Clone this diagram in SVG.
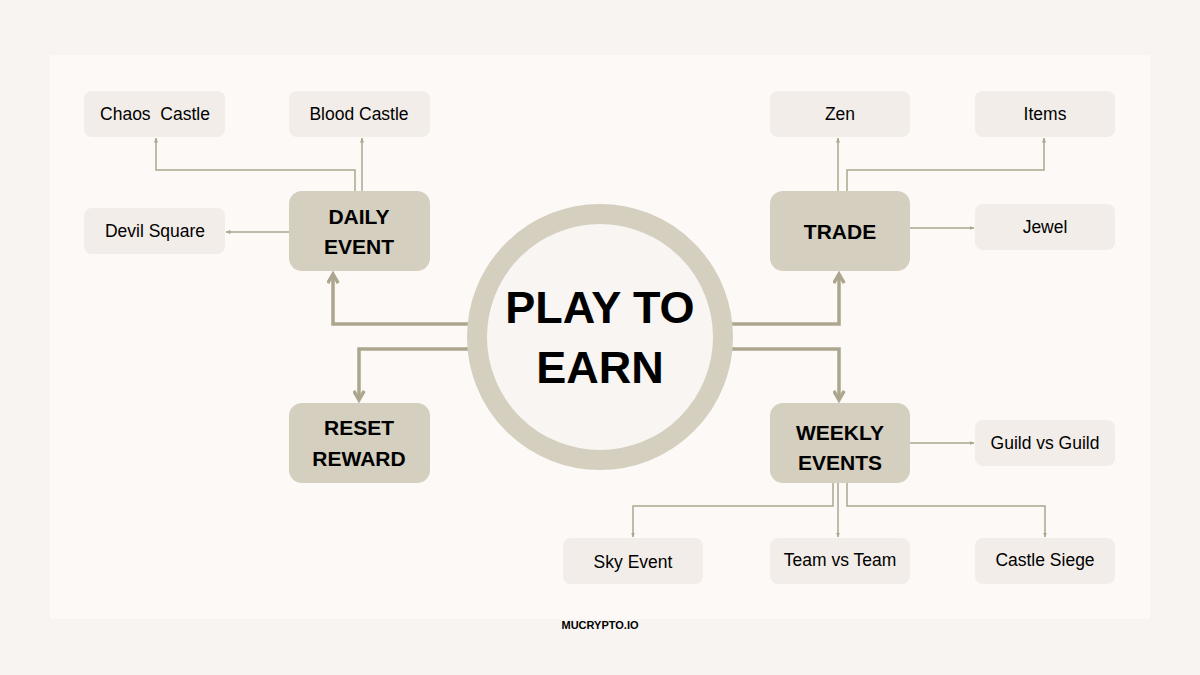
<svg xmlns="http://www.w3.org/2000/svg" width="1200" height="675" viewBox="0 0 1200 675">
<style>
.sbox{fill:#f2ede8}
.bbox{fill:#d4cfbe}
.st{font-family:"Liberation Sans",Arial,sans-serif;font-size:17.5px;fill:#000;text-anchor:middle;dominant-baseline:central}
.bt{font-family:"Liberation Sans",Arial,sans-serif;font-size:21px;font-weight:bold;fill:#000;text-anchor:middle;dominant-baseline:central}
.thin{fill:none;stroke:#aca68e;stroke-width:1.5}
.thick{fill:none;stroke:#aca68e;stroke-width:3.5}
</style>
<defs>
<marker id="a" viewBox="0 0 10 10" refX="9" refY="5" markerWidth="5" markerHeight="5" orient="auto" markerUnits="userSpaceOnUse"><path d="M0,1 L10,5 L0,9 z" fill="#aca68e"/></marker>
<marker id="A" viewBox="0 0 10 10" refX="8" refY="5" markerWidth="13" markerHeight="13" orient="auto" markerUnits="userSpaceOnUse"><path d="M1,1 L8,5 L1,9" fill="none" stroke="#aca68e" stroke-width="2.6"/></marker>
</defs>
<rect width="1200" height="675" fill="#f8f4f1"/>
<rect x="50" y="55" width="1100" height="564" fill="#fcf9f7"/>
<g id="connectors">
<path class="thick" d="M470,324 H333 V274" marker-end="url(#A)"/>
<path class="thick" d="M470,349 H359 V400" marker-end="url(#A)"/>
<path class="thick" d="M730,324 H839 V274" marker-end="url(#A)"/>
<path class="thick" d="M730,349 H839 V400" marker-end="url(#A)"/>
<path class="thin" d="M355,191 V170 H156 V138" marker-end="url(#a)"/>
<path class="thin" d="M362,191 V138" marker-end="url(#a)"/>
<path class="thin" d="M289,232 H226" marker-end="url(#a)"/>
<path class="thin" d="M838,191 V138" marker-end="url(#a)"/>
<path class="thin" d="M847,191 V170 H1044 V138" marker-end="url(#a)"/>
<path class="thin" d="M910,228 H974" marker-end="url(#a)"/>
<path class="thin" d="M910,443 H974" marker-end="url(#a)"/>
<path class="thin" d="M833,483 V506 H633 V537" marker-end="url(#a)"/>
<path class="thin" d="M838,483 V537" marker-end="url(#a)"/>
<path class="thin" d="M847,483 V506 H1045 V537" marker-end="url(#a)"/>
</g>
<g id="center">
<circle cx="600" cy="337" r="123" fill="#f8f5f2" stroke="#d4cfbe" stroke-width="20"/>
<text class="bt" x="600" y="307" style="font-size:45px">PLAY TO</text>
<text class="bt" x="600" y="367" style="font-size:45px">EARN</text>
</g>
<g id="daily"><rect class="bbox" x="289" y="191" width="141" height="80" rx="13"/><text class="bt" x="359" y="216">DAILY</text><text class="bt" x="359" y="246">EVENT</text></g>
<g id="trade"><rect class="bbox" x="770" y="191" width="140" height="80" rx="13"/><text class="bt" x="840" y="231">TRADE</text></g>
<g id="reset"><rect class="bbox" x="289" y="403" width="141" height="80" rx="13"/><text class="bt" x="359" y="427">RESET</text><text class="bt" x="359" y="458">REWARD</text></g>
<g id="weekly"><rect class="bbox" x="770" y="403" width="140" height="80" rx="13"/><text class="bt" x="840" y="432">WEEKLY</text><text class="bt" x="840" y="462">EVENTS</text></g>
<g id="chaos"><rect class="sbox" x="84" y="91" width="141" height="46" rx="8"/><text class="st" x="155" y="114" xml:space="preserve">Chaos  Castle</text></g>
<g id="blood"><rect class="sbox" x="289" y="91" width="141" height="46" rx="8"/><text class="st" x="359" y="114">Blood Castle</text></g>
<g id="devil"><rect class="sbox" x="84" y="208" width="141" height="46" rx="8"/><text class="st" x="155" y="231">Devil Square</text></g>
<g id="zen"><rect class="sbox" x="770" y="91" width="140" height="46" rx="8"/><text class="st" x="840" y="114">Zen</text></g>
<g id="items"><rect class="sbox" x="975" y="91" width="140" height="46" rx="8"/><text class="st" x="1045" y="114">Items</text></g>
<g id="jewel"><rect class="sbox" x="975" y="204" width="140" height="46" rx="8"/><text class="st" x="1045" y="227">Jewel</text></g>
<g id="guild"><rect class="sbox" x="975" y="420" width="140" height="46" rx="8"/><text class="st" x="1045" y="443">Guild vs Guild</text></g>
<g id="sky"><rect class="sbox" x="563" y="538" width="140" height="46" rx="8"/><text class="st" x="633" y="562">Sky Event</text></g>
<g id="team"><rect class="sbox" x="770" y="538" width="140" height="46" rx="8"/><text class="st" x="840" y="560">Team vs Team</text></g>
<g id="siege"><rect class="sbox" x="975" y="538" width="140" height="46" rx="8"/><text class="st" x="1045" y="560">Castle Siege</text></g>
<text x="600" y="625" style="font-family:'Liberation Sans',Arial,sans-serif;font-size:11px;font-weight:bold;fill:#000;text-anchor:middle;dominant-baseline:central">MUCRYPTO.IO</text>
</svg>
